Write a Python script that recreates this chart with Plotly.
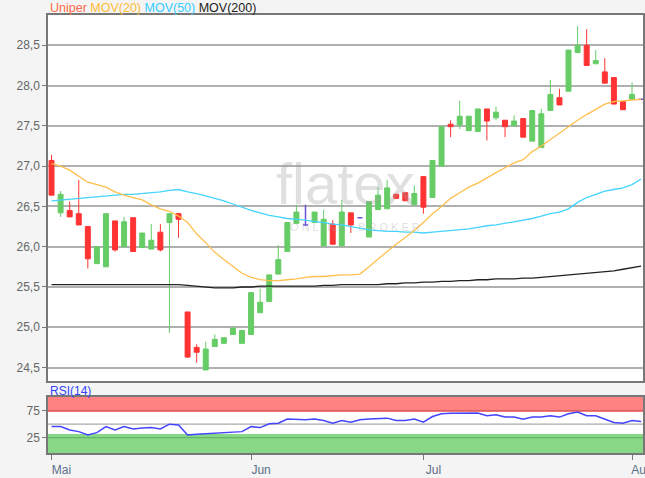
import pandas as pd
import plotly.graph_objects as go

# ---- categories (trading days, 2019) ----
_days = pd.bdate_range("2019-05-02", "2019-08-02")
dates = [d.strftime("%Y-%m-%d") for d in _days if d.strftime("%Y-%m-%d") != "2019-06-10"]

# ---- OHLC values ----
open_ = [27.07, 26.42, 26.45, 26.41, 26.25, 25.79, 25.75, 26.32, 26.00, 26.36,
         25.99, 25.97, 26.18, 26.30, 26.41, 25.19, 24.75, 24.47, 24.76, 24.80,
         24.91, 24.80, 24.91, 25.18, 25.32, 25.66, 25.94, 26.29, 26.27, 26.30,
         26.01, 26.28, 26.01, 26.42, 26.36, 26.12, 26.46, 26.47, 26.65, 26.67,
         26.52, 26.87, 26.61, 27.00, 27.52, 27.51, 27.44, 27.43, 27.71, 27.60,
         27.57, 27.50, 27.59, 27.31, 27.23, 27.69, 27.85, 27.93, 28.41, 28.50,
         28.27, 28.17, 28.10, 27.80, 27.83, 27.83]
high = [27.14, 26.69, 26.56, 26.83, 26.25, 26.00, 26.41, 26.32, 26.37, 26.36,
        26.17, 26.28, 26.28, 26.41, 26.42, 25.19, 24.79, 24.82, 24.91, 24.87,
        24.99, 24.96, 25.43, 25.48, 25.65, 26.02, 26.30, 26.52, 26.52, 26.43,
        26.46, 26.33, 26.58, 26.42, 26.37, 26.56, 26.74, 26.83, 26.66, 26.67,
        26.76, 26.87, 27.07, 27.49, 27.57, 27.81, 27.62, 27.71, 27.71, 27.74,
        27.57, 27.63, 27.59, 27.69, 27.71, 28.07, 27.96, 28.44, 28.74, 28.70,
        28.44, 28.34, 28.10, 27.80, 28.04, 27.84]
low = [26.64, 26.37, 26.37, 26.27, 25.73, 25.79, 25.75, 25.94, 26.00, 25.94,
       25.99, 25.97, 25.94, 24.93, 26.11, 24.62, 24.56, 24.47, 24.76, 24.80,
       24.91, 24.80, 24.91, 25.18, 25.32, 25.66, 25.94, 26.29, 26.27, 26.30,
       26.01, 26.03, 26.01, 26.17, 26.35, 26.12, 26.46, 26.47, 26.59, 26.57,
       26.52, 26.41, 26.61, 27.00, 27.36, 27.46, 27.44, 27.43, 27.32, 27.57,
       27.36, 27.50, 27.36, 27.31, 27.23, 27.69, 27.76, 27.93, 28.41, 28.25,
       28.27, 28.03, 27.77, 27.70, 27.83, 27.82]
close = [26.64, 26.65, 26.37, 26.27, 25.85, 26.00, 26.41, 25.96, 26.31, 25.94,
         26.17, 26.08, 25.96, 26.41, 26.34, 24.63, 24.69, 24.73, 24.85, 24.87,
         24.99, 24.96, 25.43, 25.31, 25.65, 25.84, 26.30, 26.43, 26.27, 26.43,
         26.34, 26.03, 26.43, 26.27, 26.36, 26.56, 26.64, 26.73, 26.60, 26.57,
         26.66, 26.49, 27.07, 27.49, 27.49, 27.62, 27.62, 27.71, 27.56, 27.67,
         27.49, 27.56, 27.36, 27.69, 27.65, 27.89, 27.76, 28.44, 28.50, 28.25,
         28.31, 28.03, 27.77, 27.70, 27.89, 27.83]

# ---- moving averages ----
mov20 = [27.03, 27.00, 26.95, 26.87, 26.80, 26.77, 26.74, 26.68, 26.64, 26.61,
         26.58, 26.52, 26.47, 26.44, 26.38, 26.30, 26.16, 26.05, 25.93, 25.84,
         25.76, 25.67, 25.62, 25.59, 25.58, 25.58, 25.59, 25.60, 25.62, 25.63,
         25.63, 25.64, 25.65, 25.65, 25.66, 25.75, 25.85, 25.94, 26.03, 26.11,
         26.20, 26.30, 26.41, 26.50, 26.60, 26.67, 26.74, 26.79, 26.86, 26.92,
         26.98, 27.04, 27.08, 27.18, 27.25, 27.33, 27.42, 27.50, 27.57, 27.64,
         27.70, 27.77, 27.80, 27.81, 27.82, 27.83]
mov50 = [26.57, 26.58, 26.59, 26.60, 26.61, 26.62, 26.63, 26.64, 26.65, 26.65,
         26.66, 26.67, 26.68, 26.70, 26.71, 26.68, 26.66, 26.63, 26.60, 26.57,
         26.53, 26.49, 26.45, 26.42, 26.39, 26.37, 26.35, 26.34, 26.33, 26.31,
         26.30, 26.28, 26.27, 26.25, 26.23, 26.21, 26.20, 26.19, 26.19, 26.18,
         26.18, 26.17, 26.18, 26.19, 26.20, 26.21, 26.22, 26.24, 26.26, 26.27,
         26.29, 26.31, 26.33, 26.35, 26.38, 26.41, 26.43, 26.47, 26.55, 26.61,
         26.65, 26.69, 26.71, 26.73, 26.77, 26.84]
mov200 = [25.53, 25.53, 25.53, 25.53, 25.53, 25.53, 25.53, 25.53, 25.53, 25.53,
          25.53, 25.53, 25.53, 25.53, 25.53, 25.52, 25.51, 25.50, 25.49, 25.49,
          25.49, 25.50, 25.50, 25.51, 25.51, 25.51, 25.51, 25.51, 25.51, 25.51,
          25.52, 25.52, 25.53, 25.53, 25.53, 25.53, 25.53, 25.54, 25.54, 25.55,
          25.55, 25.56, 25.56, 25.57, 25.57, 25.58, 25.58, 25.59, 25.59, 25.60,
          25.60, 25.60, 25.61, 25.61, 25.62, 25.63, 25.64, 25.65, 25.66, 25.67,
          25.68, 25.69, 25.70, 25.72, 25.74, 25.76]

# ---- RSI(14) ----
rsi = [45.6, 45.6, 39.4, 36.3, 30.2, 34.4, 45.6, 39.4, 45.6, 41.3,
       43.0, 43.7, 41.3, 50.0, 48.7, 30.2, 31.5, 32.5, 33.3, 34.5,
       35.2, 36.3, 45.6, 43.7, 50.6, 51.9, 59.3, 58.5, 58.0, 59.3,
       56.7, 51.9, 56.7, 53.7, 58.0, 59.3, 60.0, 61.1, 56.7, 56.7,
       59.3, 53.7, 64.0, 69.0, 70.0, 70.4, 70.4, 70.4, 65.4, 67.2,
       63.0, 63.0, 59.3, 63.0, 63.0, 65.4, 63.0, 69.0, 72.2, 65.4,
       65.4, 59.3, 53.0, 51.9, 56.7, 54.8]

month_ticks = ["2019-05-02", "2019-06-03", "2019-07-01", "2019-08-01"]
month_labels = ["Mai", "Jun", "Jul", "Aug"]
price_ticks = [24.5, 25.0, 25.5, 26.0, 26.5, 27.0, 27.5, 28.0, 28.5]

GREEN = "#66cc66"
RED = "#ff3333"
DOJI = "#6a4fd8"

norm = [i for i in range(len(dates)) if open_[i] != close[i]]
doji = [i for i in range(len(dates)) if open_[i] == close[i]]

def pick(arr, idx):
    return [arr[i] for i in idx]

fig = go.Figure()
fig.add_trace(go.Candlestick(
    x=pick(dates, norm), open=pick(open_, norm), high=pick(high, norm),
    low=pick(low, norm), close=pick(close, norm),
    increasing=dict(line=dict(color=GREEN, width=1), fillcolor=GREEN),
    decreasing=dict(line=dict(color=RED, width=1), fillcolor=RED),
    whiskerwidth=0, showlegend=False, xaxis="x", yaxis="y"))
fig.add_trace(go.Candlestick(
    x=pick(dates, doji), open=pick(open_, doji), high=pick(high, doji),
    low=pick(low, doji), close=pick(close, doji),
    increasing=dict(line=dict(color=DOJI, width=1.5), fillcolor=DOJI),
    decreasing=dict(line=dict(color=DOJI, width=1.5), fillcolor=DOJI),
    whiskerwidth=0, showlegend=False, xaxis="x", yaxis="y"))

fig.add_trace(go.Scatter(x=dates, y=mov200, mode="lines",
                         line=dict(color="#222222", width=1.3), showlegend=False))
fig.add_trace(go.Scatter(x=dates, y=mov50, mode="lines",
                         line=dict(color="#44d4ff", width=1.3), showlegend=False))
fig.add_trace(go.Scatter(x=dates, y=mov20, mode="lines",
                         line=dict(color="#ffbf4d", width=1.3), showlegend=False))

fig.add_trace(go.Scatter(x=dates, y=rsi, mode="lines", xaxis="x2", yaxis="y2",
                         line=dict(color="#4444ff", width=1.5), showlegend=False))

# RSI bands
fig.add_shape(type="rect", xref="x2 domain", yref="y2", x0=0, x1=1, y0=72.5, y1=100,
              fillcolor="#ff8282", line_width=0, layer="below")
fig.add_shape(type="rect", xref="x2 domain", yref="y2", x0=0, x1=1, y0=-3, y1=32,
              fillcolor="#88d888", line_width=0, layer="below")
fig.add_shape(type="line", xref="x2 domain", yref="y2", x0=0, x1=1, y0=75, y1=75,
              line=dict(color="#d86060", width=1.2), layer="below")
fig.add_shape(type="line", xref="x2 domain", yref="y2", x0=0, x1=1, y0=25, y1=25,
              line=dict(color="#5cae5c", width=1.2), layer="below")
fig.add_shape(type="line", xref="x2 domain", yref="y2", x0=0, x1=1, y0=50, y1=50,
              line=dict(color="#aaaaaa", width=1.2), layer="below")

# watermark
fig.add_annotation(x=32.4, y=26.79, xref="x", yref="y", text="flatex",
                   showarrow=False, font=dict(size=58, color="rgba(160,160,160,0.32)",
                                              family="Liberation Sans"))
fig.add_annotation(x=33.5, y=26.24, xref="x", yref="y", text="O N L I N E    B R O K E R",
                   showarrow=False, font=dict(size=11, color="rgba(160,160,160,0.35)",
                                              family="Liberation Sans"))

# header labels
fig.add_annotation(x=0, y=1.017, xref="paper", yref="paper", xanchor="left", yanchor="middle",
                   showarrow=False, align="left",
                   text="<span style='color:#ff6a4a'>Uniper</span> "
                        "<span style='color:#ffbb33'>MOV(20)</span> "
                        "<span style='color:#33ccff'>MOV(50)</span> "
                        "<span style='color:#222222'>MOV(200)</span>",
                   font=dict(size=12.5, family="Liberation Sans"))
fig.add_annotation(x=0, y=0.1416, xref="paper", yref="paper", xanchor="left", yanchor="middle",
                   showarrow=False, text="RSI(14)",
                   font=dict(size=12, color="#3344ff", family="Liberation Sans"))

xr = [-0.39, 65.21]
fig.update_layout(
    width=645, height=478,
    margin=dict(l=48, r=2, t=15, b=25, autoexpand=False),
    paper_bgcolor="#f4f4f4", plot_bgcolor="#ffffff",
    separators=",.",
    font=dict(family="Liberation Sans", size=12, color="#555555"),
    boxgap=0.22,
    xaxis=dict(type="category", categoryorder="array", categoryarray=dates,
               domain=[0, 1], anchor="y", range=xr, rangeslider=dict(visible=False),
               showticklabels=False, ticks="", showgrid=False, automargin=False,
               showline=True, mirror=True, linecolor="#777777", linewidth=1.5),
    yaxis=dict(domain=[0.1644, 1], anchor="x", range=[24.333, 28.876],
               tickvals=price_ticks, tickformat=".1f", ticks="outside", ticklen=4,
               tickcolor="#777777", showgrid=True, gridcolor="#b0b0b0", gridwidth=1.5,
               zeroline=False, showline=True, mirror=True, linecolor="#777777", linewidth=1.5,
               automargin=False, tickfont=dict(size=12, color="#666666")),
    xaxis2=dict(type="category", categoryorder="array", categoryarray=dates,
                domain=[0, 1], anchor="y2", range=xr, matches="x",
                tickvals=month_ticks, ticktext=month_labels, ticks="outside", ticklen=5,
                tickcolor="#777777", showgrid=False, automargin=False,
                ticklabelshift=10,
                showline=True, mirror=True, linecolor="#777777", linewidth=1.5,
                tickfont=dict(size=12, color="#5a6f88")),
    yaxis2=dict(domain=[0, 0.1279], anchor="x2", range=[-3, 100],
                tickvals=[25, 75], ticks="outside", ticklen=4, tickcolor="#777777",
                showgrid=False, zeroline=False, automargin=False,
                showline=True, mirror=True, linecolor="#777777", linewidth=1.5,
                tickfont=dict(size=12, color="#666666")),
)

fig.write_html("out.html", config={"displayModeBar": False},
               post_script="document.body.style.margin='0';"
                           "document.body.style.background='#f4f4f4';"
                           "document.body.style.overflow='hidden';")
